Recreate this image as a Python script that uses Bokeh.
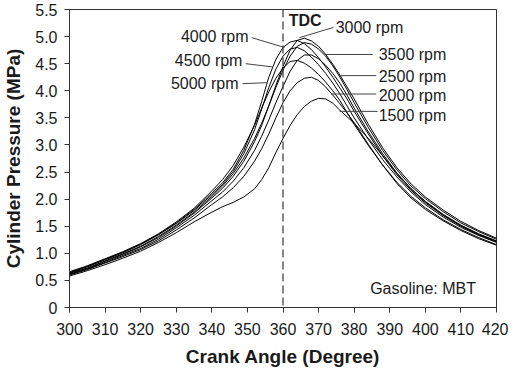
from bokeh.plotting import figure
from bokeh.models import Span, FixedTicker, PrintfTickFormatter, Range1d, ColumnDataSource
from bokeh.core.properties import value
from bokeh.embed import file_html
from bokeh.resources import INLINE

crank_angle = [300, 305, 310, 315, 320, 325, 330, 335, 340, 343, 346, 349, 352, 354, 356, 358, 360,
               362, 364, 366, 368, 370, 372, 374, 376, 378, 380, 384, 388, 392, 396, 400, 405, 410, 415, 420]

p_1500 = [0.58, 0.68, 0.79, 0.91, 1.04, 1.20, 1.38, 1.58, 1.76, 1.86, 1.94, 2.04, 2.19, 2.36, 2.58, 2.86, 3.12,
          3.36, 3.56, 3.71, 3.81, 3.86, 3.85, 3.77, 3.64, 3.52, 3.40, 3.12, 2.80, 2.48, 2.19, 1.95, 1.70, 1.50, 1.34, 1.21]
p_2000 = [0.60, 0.70, 0.82, 0.94, 1.07, 1.23, 1.43, 1.65, 1.90, 2.04, 2.21, 2.42, 2.70, 2.93, 3.20, 3.50, 3.78,
          4.00, 4.15, 4.23, 4.25, 4.19, 4.07, 3.92, 3.76, 3.59, 3.41, 3.01, 2.63, 2.29, 2.02, 1.81, 1.60, 1.42, 1.27, 1.15]
p_2500 = [0.61, 0.71, 0.83, 0.96, 1.09, 1.26, 1.47, 1.70, 1.97, 2.13, 2.33, 2.58, 2.90, 3.16, 3.46, 3.78, 4.08,
          4.36, 4.56, 4.66, 4.66, 4.59, 4.47, 4.32, 4.14, 3.92, 3.68, 3.24, 2.84, 2.48, 2.19, 1.96, 1.72, 1.52, 1.36, 1.23]
p_3000 = [0.62, 0.72, 0.85, 0.98, 1.12, 1.29, 1.50, 1.74, 2.02, 2.20, 2.42, 2.70, 3.06, 3.36, 3.72, 4.10, 4.45,
          4.75, 4.93, 4.97, 4.92, 4.82, 4.67, 4.49, 4.29, 4.07, 3.85, 3.38, 2.95, 2.58, 2.28, 2.04, 1.80, 1.59, 1.42, 1.28]
p_3500 = [0.63, 0.73, 0.86, 0.99, 1.13, 1.31, 1.52, 1.76, 2.05, 2.24, 2.47, 2.76, 3.12, 3.40, 3.72, 4.06, 4.38,
          4.64, 4.82, 4.89, 4.86, 4.77, 4.64, 4.46, 4.25, 4.02, 3.78, 3.32, 2.90, 2.54, 2.24, 2.01, 1.77, 1.56, 1.40, 1.26]
p_4000 = [0.65, 0.76, 0.89, 1.02, 1.17, 1.35, 1.56, 1.81, 2.11, 2.30, 2.55, 2.90, 3.38, 3.80, 4.25, 4.58, 4.80,
          4.90, 4.93, 4.87, 4.76, 4.61, 4.44, 4.25, 4.05, 3.85, 3.62, 3.20, 2.80, 2.45, 2.16, 1.93, 1.70, 1.51, 1.35, 1.22]
p_4500 = [0.64, 0.75, 0.88, 1.01, 1.16, 1.34, 1.55, 1.79, 2.08, 2.27, 2.51, 2.84, 3.28, 3.66, 4.06, 4.40, 4.64,
          4.77, 4.80, 4.74, 4.62, 4.48, 4.32, 4.14, 3.94, 3.72, 3.50, 3.10, 2.73, 2.41, 2.13, 1.90, 1.67, 1.48, 1.33, 1.20]
p_5000 = [0.66, 0.77, 0.90, 1.03, 1.18, 1.36, 1.58, 1.83, 2.15, 2.36, 2.62, 2.96, 3.36, 3.68, 3.98, 4.23, 4.42,
          4.54, 4.56, 4.51, 4.42, 4.30, 4.16, 4.00, 3.82, 3.60, 3.38, 2.99, 2.63, 2.31, 2.05, 1.84, 1.62, 1.44, 1.29, 1.16]

series = [p_1500, p_2000, p_2500, p_3000, p_3500, p_4000, p_4500, p_5000]

x_ticks = [300, 310, 320, 330, 340, 350, 360, 370, 380, 390, 400, 410, 420]
y_ticks = [0, 0.5, 1.0, 1.5, 2.0, 2.5, 3.0, 3.5, 4.0, 4.5, 5.0, 5.5]
tdc_angle = 360

label_text = ["4000 rpm", "4500 rpm", "5000 rpm", "3000 rpm", "3500 rpm", "2500 rpm", "2000 rpm", "1500 rpm"]
label_x = [350.3, 348.6, 347.5, 374.8, 386.9, 386.9, 386.9, 386.9]
label_y = [5.00, 4.56, 4.13, 5.17, 4.67, 4.27, 3.91, 3.55]
label_align = ["right", "right", "right", "left", "left", "left", "left", "left"]
leader_x0 = [351.2, 349.5, 348.6, 374.2, 385.2, 386.2, 386.2, 386.6]
leader_y0 = [4.98, 4.50, 4.13, 5.17, 4.67, 4.28, 3.94, 3.62]
leader_x1 = [360.4, 357.1, 355.4, 364.6, 371.7, 375.9, 373.5, 375.9]
leader_y1 = [4.80, 4.44, 4.15, 4.98, 4.67, 4.28, 3.94, 3.62]

tdc_label = "TDC"
tdc_label_pos = (361.6, 5.30)
note_text = "Gasoline: MBT"
note_pos = (384.5, 0.35)

FONT = "Liberation Sans"
INK = "#1a1a1a"

p = figure(frame_width=427, frame_height=298, output_backend="svg", toolbar_location=None,
           x_range=Range1d(300, 420), y_range=Range1d(0, 5.5),
           min_border_left=62, min_border_right=12, min_border_top=9, min_border_bottom=0)
p.background_fill_color = "white"
p.border_fill_color = "white"
p.outline_line_color = "#333333"
p.xgrid.visible = False
p.ygrid.visible = False

for s in series:
    p.line(crank_angle, s, line_color="black", line_width=1)

p.add_layout(Span(location=tdc_angle, dimension="height", line_color="#333333",
                  line_dash="8 4", line_width=1.2))

lsrc = ColumnDataSource(dict(x0=leader_x0, y0=leader_y0, x1=leader_x1, y1=leader_y1))
p.segment(x0="x0", y0="y0", x1="x1", y1="y1", source=lsrc, line_color="#444444", line_width=1)

tsrc = ColumnDataSource(dict(x=label_x, y=label_y, t=label_text, a=label_align))
p.text(x="x", y="y", text="t", text_align="a", source=tsrc, text_baseline="middle",
       text_font=value(FONT), text_font_size="16px", text_color=INK)
p.text(x=[tdc_label_pos[0]], y=[tdc_label_pos[1]], text=[tdc_label], text_baseline="middle",
       text_align="left", text_font=value(FONT), text_font_size="16px", text_font_style="bold",
       text_color=INK)
p.text(x=[note_pos[0]], y=[note_pos[1]], text=[note_text], text_baseline="middle",
       text_align="left", text_font=value(FONT), text_font_size="16px", text_color=INK)

for ax in (p.xaxis[0], p.yaxis[0]):
    ax.axis_line_color = "#333333"
    ax.major_tick_line_color = "#333333"
    ax.major_tick_out = 5
    ax.major_tick_in = 0
    ax.minor_tick_line_color = None
    ax.major_label_text_font = FONT
    ax.major_label_text_font_size = "16px"
    ax.major_label_text_color = INK
    ax.axis_label_text_font = FONT
    ax.axis_label_text_font_size = "19px"
    ax.axis_label_text_font_style = "bold"
    ax.axis_label_text_color = INK

p.xaxis.ticker = FixedTicker(ticks=x_ticks)
p.yaxis.ticker = FixedTicker(ticks=y_ticks)
p.yaxis.formatter = PrintfTickFormatter(format="%.1f")
p.yaxis.major_label_overrides = {0: "0"}
p.xaxis.axis_label = "Crank Angle (Degree)"
p.yaxis.axis_label = "Cylinder Pressure (MPa)"
p.xaxis.major_label_standoff = 10
p.yaxis.major_label_standoff = 7
p.xaxis.axis_label_standoff = 8
p.yaxis.axis_label_standoff = 8

open("out.html", "w").write(file_html(p, INLINE))
